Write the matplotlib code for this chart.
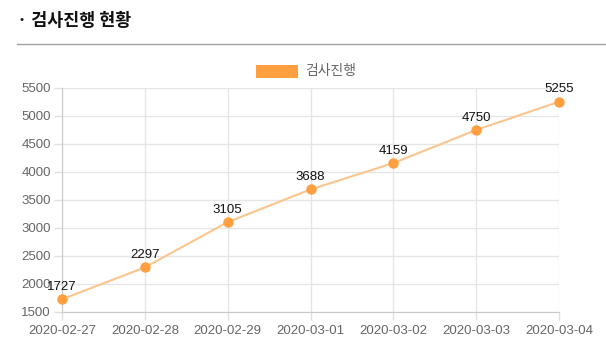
import matplotlib
matplotlib.use("Agg")
import matplotlib.pyplot as plt
from matplotlib.patches import Rectangle
from matplotlib.lines import Line2D

plt.rcParams['font.family'] = ['Liberation Sans', 'Noto Sans CJK KR', 'DejaVu Sans']

dates = ["2020-02-27", "2020-02-28", "2020-02-29", "2020-03-01", "2020-03-02", "2020-03-03", "2020-03-04"]
tests = [1727, 2297, 3105, 3688, 4159, 4750, 5255]
yticks = [1500, 2000, 2500, 3000, 3500, 4000, 4500, 5000, 5500]
series_name = "검사진행"
title = "· 검사진행 현황"

W, H = 606, 358
fig = plt.figure(figsize=(W/100, H/100), dpi=100)
ax = fig.add_axes([62/W, 1-312/H, (559-62)/W, (312-88)/H])

x = list(range(len(dates)))
ax.plot(x, tests, color='#fbc58e', lw=1.5, zorder=3, clip_on=False)
ax.scatter(x, tests, s=42, color='#ff9f40', zorder=4, clip_on=False)
for xi, v in zip(x, tests):
    ax.annotate(str(v), (xi, v), xytext=(0, 4.5), textcoords='offset points',
                ha='center', va='bottom', fontsize=9.5, color='#111111')

ax.set_xlim(0, len(dates)-1)
ax.set_ylim(1500, 5500)
ax.set_yticks(yticks)
ax.set_xticks(x)
ax.set_xticklabels(dates)
ax.tick_params(axis='both', labelsize=9.5, length=6, width=1, pad=3)
ax.tick_params(axis='x', colors='#e0e0e0', labelcolor='#666666')
ax.tick_params(axis='y', colors='#e0e0e0', labelcolor='#666666', pad=2)
ax.grid(True, color='#e6e6e6', lw=1)
ax.set_axisbelow(True)
for s in ['top', 'right']:
    ax.spines[s].set_visible(False)
for s in ['left', 'bottom']:
    ax.spines[s].set_color('#c8c8c8')

# legend
fig.patches.append(Rectangle((256/W, 1-78/H), 42/W, 13/H, transform=fig.transFigure,
                             facecolor='#ff9f40', edgecolor='none'))
fig.text(305/W, 1-71.5/H, series_name, fontsize=10, color='#666666', va='center', ha='left',
         family=['Noto Sans CJK KR', 'DejaVu Sans'])

# title
fig.text(17/W, 1-21/H, title, fontsize=12.5, fontweight='bold', color='#111111', va='center', ha='left',
         family=['Noto Sans CJK KR', 'DejaVu Sans'])
fig.lines.append(Line2D([17/W, 1], [1-44/H, 1-44/H], transform=fig.transFigure, color='#a0a0a8', lw=1))

fig.savefig("out.png", dpi=100)
